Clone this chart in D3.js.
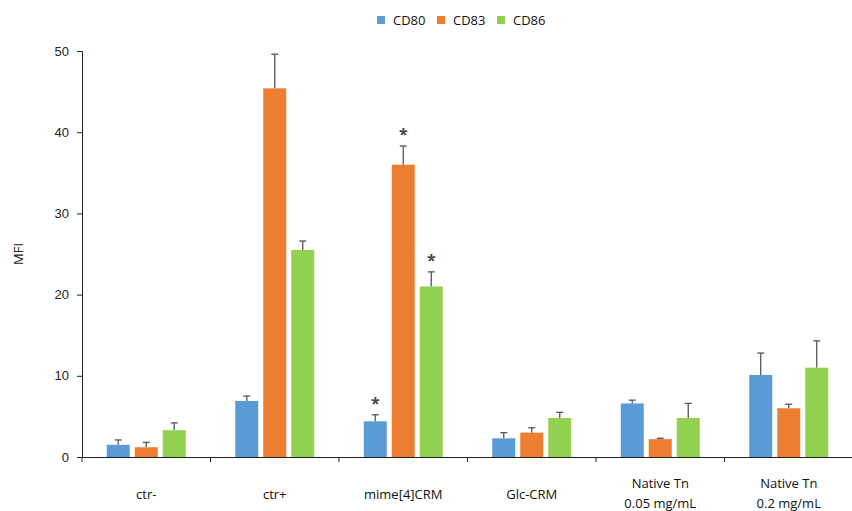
<!DOCTYPE html>
<html>
<head>
<meta charset="utf-8">
<script src="https://cdn.jsdelivr.net/npm/d3@7"></script>
<style>
  body { margin: 0; background: #fff; }
  svg { font-family: "Open Sans", "Noto Sans", sans-serif; }
</style>
</head>
<body>
<svg id="chart"></svg>
<script>
// groups on the x axis (multi-line labels split by \n)
const groups = ['ctr-', 'ctr+', 'mime[4]CRM', 'Glc-CRM', 'Native Tn\n0.05 mg/mL', 'Native Tn\n0.2 mg/mL'];
const series = ['CD80', 'CD83', 'CD86'];
const colors = ['#5b9bd5', '#ed7d31', '#92d050'];

// mean MFI per group
const cd80 = [1.5, 6.9, 4.4, 2.3, 6.6, 10.1];
const cd83 = [1.2, 45.4, 36.0, 3.0, 2.2, 6.0];
const cd86 = [3.3, 25.5, 21.0, 4.8, 4.8, 11.0];

// error (upper) per group
const cd80Err = [0.6, 0.6, 0.8, 0.7, 0.4, 2.7];
const cd83Err = [0.6, 4.2, 2.3, 0.6, 0.1, 0.5];
const cd86Err = [0.9, 1.1, 1.8, 0.7, 1.8, 3.3];

// significance markers
const cd80Sig = [false, false, true, false, false, false];
const cd83Sig = [false, false, true, false, false, false];
const cd86Sig = [false, false, true, false, false, false];

const yTicks = [0, 10, 20, 30, 40, 50];

const values = [cd80, cd83, cd86];
const errors = [cd80Err, cd83Err, cd86Err];
const sigs = [cd80Sig, cd83Sig, cd86Sig];

const width = 852, height = 511;
const margin = { top: 51, right: 0, bottom: 54, left: 82 };

const svg = d3.select('#chart')
  .attr('width', width)
  .attr('height', height);

const x = d3.scaleBand()
  .domain(groups)
  .range([margin.left, width + 1]);

const barW = 23, barStep = 28;

const y = d3.scaleLinear()
  .domain([0, 50])
  .range([height - margin.bottom, margin.top]);

// bars, error bars, asterisks
series.forEach((s, si) => {
  const data = groups.map((g, gi) => ({
    g, v: values[si][gi], e: errors[si][gi], sig: sigs[si][gi]
  }));
  const cx = d => x(d.g) + x.bandwidth() / 2 + (si - 1) * barStep;

  const layer = svg.append('g');

  layer.selectAll('line.err')
    .data(data)
    .enter()
    .append('line')
    .attr('x1', cx).attr('x2', cx)
    .attr('y1', d => y(d.v)).attr('y2', d => y(d.v + d.e))
    .attr('stroke', '#555').attr('stroke-width', 1.3);

  layer.selectAll('line.cap')
    .data(data)
    .enter()
    .append('line')
    .attr('x1', d => cx(d) - 3.5).attr('x2', d => cx(d) + 3.5)
    .attr('y1', d => y(d.v + d.e)).attr('y2', d => y(d.v + d.e))
    .attr('stroke', '#555').attr('stroke-width', 1.3);

  layer.selectAll('rect')
    .data(data)
    .enter()
    .append('rect')
    .attr('x', d => cx(d) - barW / 2)
    .attr('width', barW)
    .attr('y', d => y(d.v))
    .attr('height', d => y(0) - y(d.v))
    .attr('fill', colors[si]);

  layer.selectAll('text.sig')
    .data(data.filter(d => d.sig))
    .enter()
    .append('text')
    .attr('x', cx)
    .attr('y', d => y(d.v + d.e) - 6)
    .attr('text-anchor', 'middle')
    .attr('font-size', 16)
    .attr('font-weight', 'bold')
    .attr('fill', '#444')
    .text('*');
});

// y axis
const yAxis = svg.append('g')
  .attr('transform', `translate(${margin.left},0)`)
  .call(d3.axisLeft(y).tickValues(yTicks).tickSize(5).tickPadding(8));
yAxis.select('.domain').attr('stroke', '#222');
yAxis.selectAll('line').attr('stroke', '#222');
yAxis.selectAll('text').attr('fill', '#222').style('font-size', '13px');

// x axis
const xAxis = svg.append('g')
  .attr('transform', `translate(0,${y(0)})`)
  .call(d3.axisBottom(x).tickSize(0).tickFormat(''));
xAxis.select('.domain').attr('stroke', '#222');

// category separator ticks
svg.append('g')
  .selectAll('line')
  .data(groups)
  .enter()
  .append('line')
  .attr('x1', d => x(d)).attr('x2', d => x(d))
  .attr('y1', y(0)).attr('y2', y(0) + 5)
  .attr('stroke', '#222');

// category labels
svg.append('g')
  .selectAll('text')
  .data(groups)
  .enter()
  .append('text')
  .attr('text-anchor', 'middle')
  .attr('fill', '#111')
  .style('font-size', '13px')
  .each(function (d) {
    const lines = d.split('\n');
    const t = d3.select(this);
    const cx = x(d) + x.bandwidth() / 2;
    const y0 = lines.length === 1 ? 499 : 488;
    lines.forEach((l, i) => {
      t.append('tspan').attr('x', cx).attr('y', y0 + i * 20).text(l);
    });
  });

// y axis title
svg.append('text')
  .attr('transform', `translate(23,${(y(0) + y(50)) / 2}) rotate(-90)`)
  .attr('text-anchor', 'middle')
  .attr('fill', '#222')
  .style('font-size', '13px')
  .text('MFI');

// legend
const legendX = [377, 437, 497];
const legend = svg.append('g')
  .selectAll('g')
  .data(series)
  .enter()
  .append('g')
  .attr('transform', (d, i) => `translate(${legendX[i]},16)`);
legend.append('rect')
  .attr('width', 8).attr('height', 8)
  .attr('fill', (d, i) => colors[i]);
legend.append('text')
  .attr('x', 16).attr('y', 8.5)
  .attr('fill', '#111')
  .style('font-size', '13px')
  .text(d => d);
</script>
</body>
</html>
